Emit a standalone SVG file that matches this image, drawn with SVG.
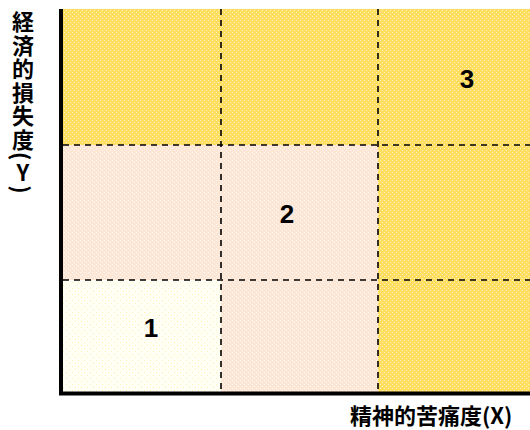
<svg xmlns="http://www.w3.org/2000/svg" width="530" height="430" viewBox="0 0 530 430">
  <defs>
    <pattern id="dYellow" width="4" height="4" patternUnits="userSpaceOnUse">
      <rect x="0" y="0" width="1" height="1" fill="#FFF3C0"/>
      <rect x="2" y="2" width="1" height="1" fill="#FFF3C0"/>
    </pattern>
    <pattern id="dPeach" width="4" height="4" patternUnits="userSpaceOnUse">
      <rect x="0" y="0" width="1" height="1" fill="#FFF8F2"/>
      <rect x="2" y="2" width="1" height="1" fill="#FFF8F2"/>
    </pattern>
    <pattern id="dPale" width="6" height="6" patternUnits="userSpaceOnUse">
      <rect x="0" y="0" width="1" height="1" fill="#FBF5A8"/>
      <rect x="3" y="3" width="1" height="1" fill="#FBF5A8"/>
    </pattern>
  </defs>
  <style>
    .yellow { fill: #FFDD5E; }
    .peach { fill: #FCE6D6; }
    .pale { fill: #FFFFF6; }
    .grid { stroke: #000; stroke-width: 1.6; stroke-dasharray: 6 5; fill: none; }
    .axis { stroke: #000; stroke-width: 4; fill: none; }
    .num { font-family: "Liberation Sans", Arial, sans-serif; font-weight: bold; font-size: 26px; fill: #000; text-anchor: middle; }
    .lbl { font-family: "Noto Sans CJK JP", "Liberation Sans", sans-serif; font-weight: bold; font-size: 22px; fill: #000; }
  </style>
  <rect width="530" height="430" fill="#fff"/>
  <g id="regions">
    <rect id="zone3" class="yellow" x="63" y="9" width="467" height="136"/>
    <rect id="zone3b" class="yellow" x="378" y="145" width="152" height="247"/>
    <rect id="zone2" class="peach" x="63" y="145" width="315" height="135"/>
    <rect id="zone2b" class="peach" x="221" y="280" width="157" height="112"/>
    <rect id="zone1" class="pale" x="63" y="280" width="158" height="112"/>
    <rect x="63" y="9" width="467" height="136" fill="url(#dYellow)"/>
    <rect x="378" y="145" width="152" height="247" fill="url(#dYellow)"/>
    <rect x="63" y="145" width="315" height="135" fill="url(#dPeach)"/>
    <rect x="221" y="280" width="157" height="112" fill="url(#dPeach)"/>
    <rect x="63" y="280" width="158" height="112" fill="url(#dPale)"/>
  </g>
  <g id="gridlines">
    <line class="grid" x1="221" y1="9" x2="221" y2="392"/>
    <line class="grid" x1="378" y1="9" x2="378" y2="392"/>
    <line class="grid" x1="63" y1="145" x2="530" y2="145"/>
    <line class="grid" x1="63" y1="280" x2="530" y2="280"/>
  </g>
  <g id="axes">
    <polyline class="axis" points="61,9 61,393.5 530,393.5"/>
  </g>
  <g id="labels">
    <text id="n3" class="num" x="467" y="88">3</text>
    <text id="n2" class="num" x="287" y="223">2</text>
    <text id="n1" class="num" x="151" y="337">1</text>
    <text id="xlabel" class="lbl" x="350" y="424">精神的苦痛度(X)</text>
    <text id="ylabel" class="lbl" x="23" y="11" writing-mode="vertical-rl" style="letter-spacing:1.5px">経済的損失度(<tspan style="text-orientation:upright">Y</tspan>)</text>
  </g>
</svg>
